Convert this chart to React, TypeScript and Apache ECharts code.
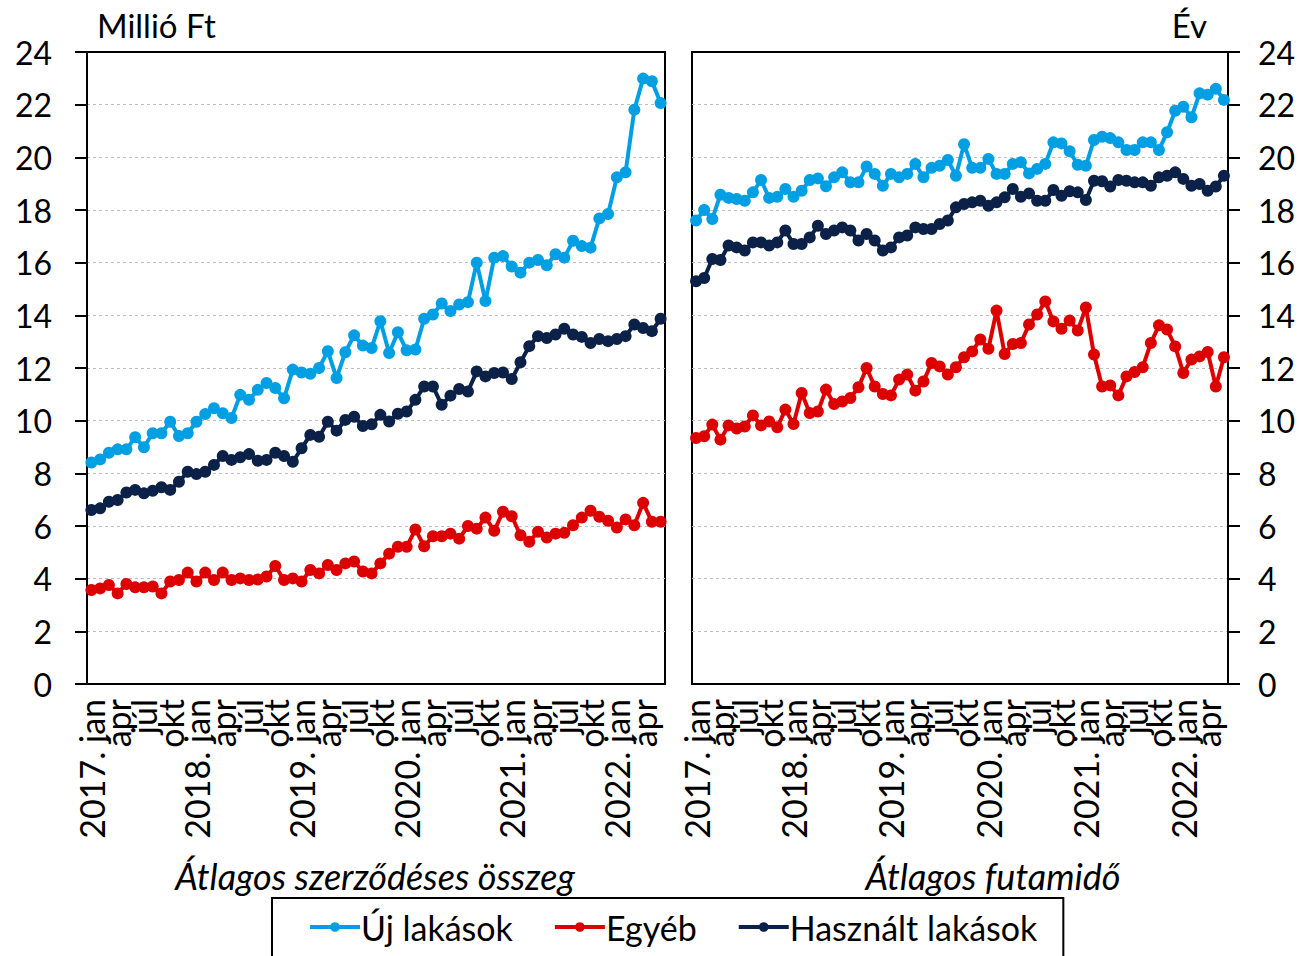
import React, { useEffect, useRef } from "react";
import * as echarts from "echarts";

// ---- data ----
const years = [2017, 2018, 2019, 2020, 2021, 2022];
const monthNames = ["jan", "febr", "márc", "ápr", "máj", "jún", "júl", "aug", "szept", "okt", "nov", "dec"];
const lastYearMonths = 6; // 2022: jan–jún

const seriesNames = ["Új lakások", "Egyéb", "Használt lakások"];

// Átlagos szerződéses összeg (millió Ft)
const amountNew = [
  8.41, 8.53, 8.78, 8.91, 8.91, 9.37, 8.99, 9.52, 9.52, 9.96, 9.42, 9.52,
  9.96, 10.25, 10.47, 10.28, 10.1, 10.98, 10.79, 11.17, 11.43, 11.24, 10.85, 11.94,
  11.83, 11.78, 12.0, 12.64, 11.62, 12.6, 13.24, 12.85, 12.76, 13.78, 12.57, 13.36,
  12.67, 12.7, 13.87, 14.03, 14.45, 14.16, 14.41, 14.5, 16.0, 14.54, 16.19, 16.25,
  15.85, 15.62, 16.0, 16.1, 15.9, 16.32, 16.19, 16.83, 16.63, 16.57, 17.68, 17.85,
  19.24, 19.43, 21.81, 22.99, 22.89, 22.06,
];
const amountOther = [
  3.57, 3.63, 3.76, 3.44, 3.8, 3.67, 3.67, 3.7, 3.44, 3.89, 3.95, 4.23,
  3.89, 4.23, 3.95, 4.23, 3.95, 4.01, 3.95, 3.97, 4.08, 4.48, 3.95, 4.01,
  3.89, 4.33, 4.2, 4.52, 4.33, 4.58, 4.65, 4.27, 4.2, 4.58, 4.95, 5.21,
  5.21, 5.87, 5.23, 5.61, 5.61, 5.71, 5.52, 6.0, 5.9, 6.32, 5.82, 6.54,
  6.37, 5.65, 5.4, 5.78, 5.56, 5.71, 5.74, 6.03, 6.32, 6.58, 6.35, 6.2,
  5.94, 6.25, 6.03, 6.88, 6.16, 6.16,
];
const amountUsed = [
  6.61, 6.67, 6.92, 6.99, 7.27, 7.37, 7.24, 7.34, 7.47, 7.37, 7.68, 8.06,
  7.97, 8.06, 8.32, 8.66, 8.51, 8.61, 8.73, 8.48, 8.51, 8.78, 8.66, 8.44,
  8.95, 9.46, 9.39, 9.96, 9.62, 10.03, 10.15, 9.8, 9.86, 10.22, 9.97, 10.26,
  10.35, 10.79, 11.3, 11.3, 10.6, 10.95, 11.2, 11.11, 11.87, 11.68, 11.81, 11.83,
  11.58, 12.22, 12.83, 13.21, 13.14, 13.27, 13.49, 13.27, 13.18, 12.95, 13.1, 13.02,
  13.1, 13.21, 13.65, 13.52, 13.4, 13.87,
];

// Átlagos futamidő (év)
const termNew = [
  17.6, 18.0, 17.66, 18.58, 18.46, 18.42, 18.35, 18.67, 19.14, 18.46, 18.5, 18.8,
  18.5, 18.73, 19.14, 19.2, 18.9, 19.24, 19.43, 19.05, 19.05, 19.65, 19.37, 18.92,
  19.37, 19.24, 19.37, 19.75, 19.24, 19.6, 19.68, 19.9, 19.3, 20.5, 19.6, 19.6,
  19.94, 19.37, 19.37, 19.75, 19.81, 19.39, 19.56, 19.75, 20.57, 20.53, 20.23, 19.72,
  19.68, 20.66, 20.78, 20.73, 20.57, 20.28, 20.28, 20.57, 20.57, 20.28, 20.95, 21.77,
  21.92, 21.52, 22.43, 22.38, 22.6, 22.18,
];
const termOther = [
  9.34, 9.41, 9.85, 9.28, 9.82, 9.7, 9.78, 10.2, 9.82, 9.97, 9.75, 10.42,
  9.87, 11.05, 10.29, 10.35, 11.18, 10.63, 10.73, 10.86, 11.27, 12.0, 11.3, 11.01,
  10.96, 11.56, 11.75, 11.14, 11.49, 12.19, 12.06, 11.75, 12.03, 12.41, 12.63, 13.08,
  12.73, 14.18, 12.53, 12.91, 12.95, 13.65, 14.03, 14.53, 13.77, 13.49, 13.8, 13.42,
  14.3, 12.51, 11.3, 11.34, 10.96, 11.68, 11.85, 12.03, 12.95, 13.62, 13.46, 12.82,
  11.81, 12.32, 12.44, 12.61, 11.3, 12.41,
];
const termUsed = [
  15.29, 15.42, 16.14, 16.1, 16.65, 16.58, 16.46, 16.77, 16.77, 16.65, 16.77, 17.22,
  16.71, 16.71, 16.96, 17.4, 17.09, 17.22, 17.34, 17.22, 16.84, 17.09, 16.84, 16.46,
  16.58, 16.96, 17.03, 17.34, 17.28, 17.28, 17.47, 17.6, 18.1, 18.23, 18.29, 18.35,
  18.16, 18.29, 18.48, 18.8, 18.5, 18.63, 18.35, 18.35, 18.76, 18.54, 18.71, 18.67,
  18.38, 19.11, 19.09, 18.89, 19.14, 19.11, 19.05, 19.05, 18.92, 19.24, 19.3, 19.43,
  19.18, 18.92, 18.99, 18.73, 18.89, 19.3,
];

const colors = ["#009FE3", "#DC0000", "#0C2148"];
const FONT = 'Lato, "Open Sans", "Noto Sans", sans-serif';

const categories: string[] = [];
years.forEach((y, yi) => {
  const n = yi === years.length - 1 ? lastYearMonths : 12;
  for (let m = 0; m < n; m++) {
    categories.push(m === 0 ? `${y}. ${monthNames[m]}` : monthNames[m]);
  }
});

export default function App() {
  const ref = useRef<HTMLDivElement>(null);
  useEffect(() => {
    if (!ref.current) return;
    const chart = echarts.init(ref.current, null, { renderer: "svg" });

    const xAxis = (gi: number) => ({
      type: "category",
      gridIndex: gi,
      data: categories,
      boundaryGap: true,
      axisLine: { lineStyle: { color: "#000", width: 2 } },
      axisTick: { interval: 0, length: 9, lineStyle: { color: "#000", width: 1.5 } },
      axisLabel: {
        interval: 0,
        formatter: (v: string, i: number) => (i % 3 === 0 ? v : ""),
        showMinLabel: true,
        showMaxLabel: true,
        hideOverlap: false,
        rotate: 90,
        fontSize: 34,
        color: "#000",
        margin: 15,
        fontFamily: FONT,
      },
      splitLine: { show: false },
    });
    const yAxis = (gi: number, pos: string, margin: number) => ({
      type: "value",
      gridIndex: gi,
      position: pos,
      min: 0,
      max: 24,
      interval: 2,
      axisLine: { show: true, lineStyle: { color: "#000", width: 2 } },
      axisTick: { show: true, length: 12, lineStyle: { color: "#000", width: 2 } },
      axisLabel: { fontSize: 32, color: "#000", margin, fontFamily: FONT },
      splitLine: {
        show: true,
        showMinLine: false,
        showMaxLine: false,
        lineStyle: { color: "#BFBFBF", type: [3, 3], width: 1 },
      },
    });
    const mk = (name: string, data: number[], gi: number, ci: number) => ({
      type: "line",
      name,
      xAxisIndex: gi,
      yAxisIndex: gi,
      data,
      symbol: "circle",
      symbolSize: 12,
      showSymbol: true,
      showAllSymbol: true,
      lineStyle: { width: 4, color: colors[ci] },
      itemStyle: { color: colors[ci] },
      z: 2 + ci,
    });

    chart.setOption({
      animation: false,
      textStyle: { fontFamily: FONT },
      grid: [
        { left: 87, right: 634, top: 52, bottom: 272, show: true, borderColor: "#000", borderWidth: 2, backgroundColor: "transparent" },
        { left: 692, right: 71, top: 52, bottom: 272, show: true, borderColor: "#000", borderWidth: 2, backgroundColor: "transparent" },
      ],
      xAxis: [xAxis(0), xAxis(1)],
      yAxis: [yAxis(0, "left", 35), yAxis(1, "right", 30)],
      legend: {
        data: seriesNames.map((n) => ({ name: n, lineStyle: { width: 4 } })),
        left: 272,
        top: 898,
        padding: [12, 26, 24, 36],
        itemGap: 40,
        itemWidth: 50,
        itemHeight: 12,
        borderColor: "#000",
        borderWidth: 2,
        lineStyle: { width: 4 },
        textStyle: { fontSize: 34, color: "#000", fontFamily: FONT, padding: [0, 0, 0, -4] },
      },
      graphic: [
        { type: "text", left: 97, top: 8, style: { text: "Millió Ft", font: `33px ${FONT}`, fill: "#000" } },
        { type: "text", right: 92, top: 8, style: { text: "Év", font: `33px ${FONT}`, fill: "#000" } },
        { type: "text", x: 375, y: 876, style: { text: "Átlagos szerződéses összeg", font: `italic 36px ${FONT}`, fill: "#000", align: "center", verticalAlign: "middle" } },
        { type: "text", x: 993, y: 876, style: { text: "Átlagos futamidő", font: `italic 36px ${FONT}`, fill: "#000", align: "center", verticalAlign: "middle" } },
      ],
      series: [
        mk(seriesNames[0], amountNew, 0, 0),
        mk(seriesNames[1], amountOther, 0, 1),
        mk(seriesNames[2], amountUsed, 0, 2),
        mk(seriesNames[0], termNew, 1, 0),
        mk(seriesNames[1], termOther, 1, 1),
        mk(seriesNames[2], termUsed, 1, 2),
      ],
    });
    return () => chart.dispose();
  }, []);
  return (
    <div
      ref={ref}
      style={{ position: "absolute", left: 0, top: 0, width: 1299, height: 956, background: "#fff" }}
    />
  );
}
